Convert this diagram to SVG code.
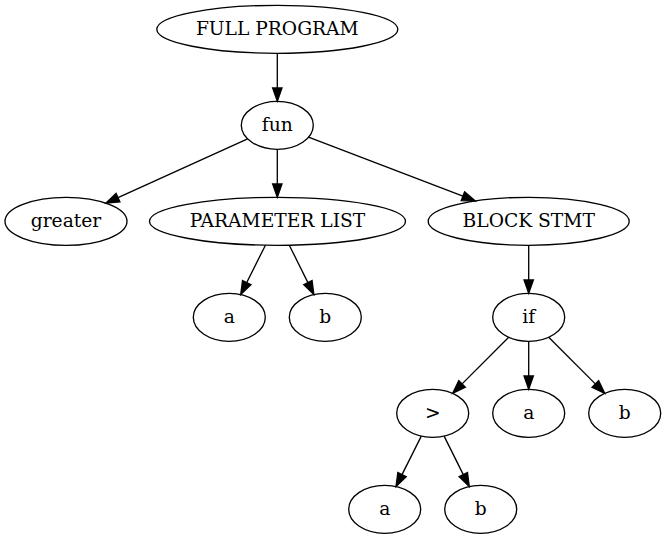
<svg xmlns="http://www.w3.org/2000/svg" width="666" height="539" viewBox="0 0 666 539">
<style>
  .n ellipse { fill: none; stroke: #000; stroke-width: 1.33; }
  .n text { font-family: "DejaVu Serif", "Liberation Serif", serif; font-size: 18.67px; text-anchor: middle; fill: #000; }
  #edges line { stroke: #000; stroke-width: 1.33; marker-end: url(#arr); }
</style>
<defs>
  <marker id="arr" markerUnits="userSpaceOnUse" markerWidth="14" markerHeight="10" refX="0" refY="4.67" orient="auto" overflow="visible">
    <path d="M0,0 L13.33,4.67 L0,9.33 z" fill="#000" stroke="#000" stroke-width="1.33" stroke-linejoin="miter"/>
  </marker>
</defs>
<rect width="666" height="539" fill="#fff"/>
<g id="edges">
  <line x1="277.3" y1="53.3" x2="277.3" y2="88"/>
  <line x1="247.6" y1="138.8" x2="118" y2="197.7"/>
  <line x1="277.3" y1="149.3" x2="277.3" y2="184"/>
  <line x1="308.5" y1="137.2" x2="462.9" y2="196.2"/>
  <line x1="265.4" y1="245.2" x2="246.7" y2="282.6"/>
  <line x1="289.3" y1="245.2" x2="307.9" y2="282.6"/>
  <line x1="528.7" y1="245.3" x2="528.7" y2="280"/>
  <line x1="508.7" y1="337.3" x2="462.1" y2="383.9"/>
  <line x1="528.7" y1="341.3" x2="528.7" y2="376"/>
  <line x1="548.7" y1="337.3" x2="595.3" y2="383.9"/>
  <line x1="421.3" y1="436.1" x2="402" y2="474.6"/>
  <line x1="444.1" y1="436.1" x2="463.3" y2="474.6"/>
</g>
<g id="full_program" class="n"><ellipse cx="277.3" cy="29.3" rx="120.5" ry="24"/><text x="277.3" y="34.9">FULL PROGRAM</text></g>
<g id="fun" class="n"><ellipse cx="277.3" cy="125.3" rx="36" ry="24"/><text x="277.3" y="130.9">fun</text></g>
<g id="greater" class="n"><ellipse cx="66" cy="221.3" rx="61" ry="24"/><text x="66" y="226.9">greater</text></g>
<g id="parameter_list" class="n"><ellipse cx="277.5" cy="221.3" rx="128" ry="24"/><text x="277.5" y="226.9">PARAMETER LIST</text></g>
<g id="block_stmt" class="n"><ellipse cx="528.7" cy="221.3" rx="100.5" ry="24"/><text x="528.7" y="226.9">BLOCK STMT</text></g>
<g id="param_a" class="n"><ellipse cx="229.3" cy="317.3" rx="36" ry="24"/><text x="229.3" y="322.9">a</text></g>
<g id="param_b" class="n"><ellipse cx="325.3" cy="317.3" rx="36" ry="24"/><text x="325.3" y="322.9">b</text></g>
<g id="if" class="n"><ellipse cx="528.7" cy="317.3" rx="36" ry="24"/><text x="528.7" y="322.9">if</text></g>
<g id="gt" class="n"><ellipse cx="432.7" cy="413.3" rx="36" ry="24"/><text x="432.7" y="418.9">&gt;</text></g>
<g id="if_a" class="n"><ellipse cx="528.7" cy="413.3" rx="36" ry="24"/><text x="528.7" y="418.9">a</text></g>
<g id="if_b" class="n"><ellipse cx="624.7" cy="413.3" rx="36" ry="24"/><text x="624.7" y="418.9">b</text></g>
<g id="gt_a" class="n"><ellipse cx="384.7" cy="509.3" rx="36" ry="24"/><text x="384.7" y="514.9">a</text></g>
<g id="gt_b" class="n"><ellipse cx="480.7" cy="509.3" rx="36" ry="24"/><text x="480.7" y="514.9">b</text></g>
</svg>
